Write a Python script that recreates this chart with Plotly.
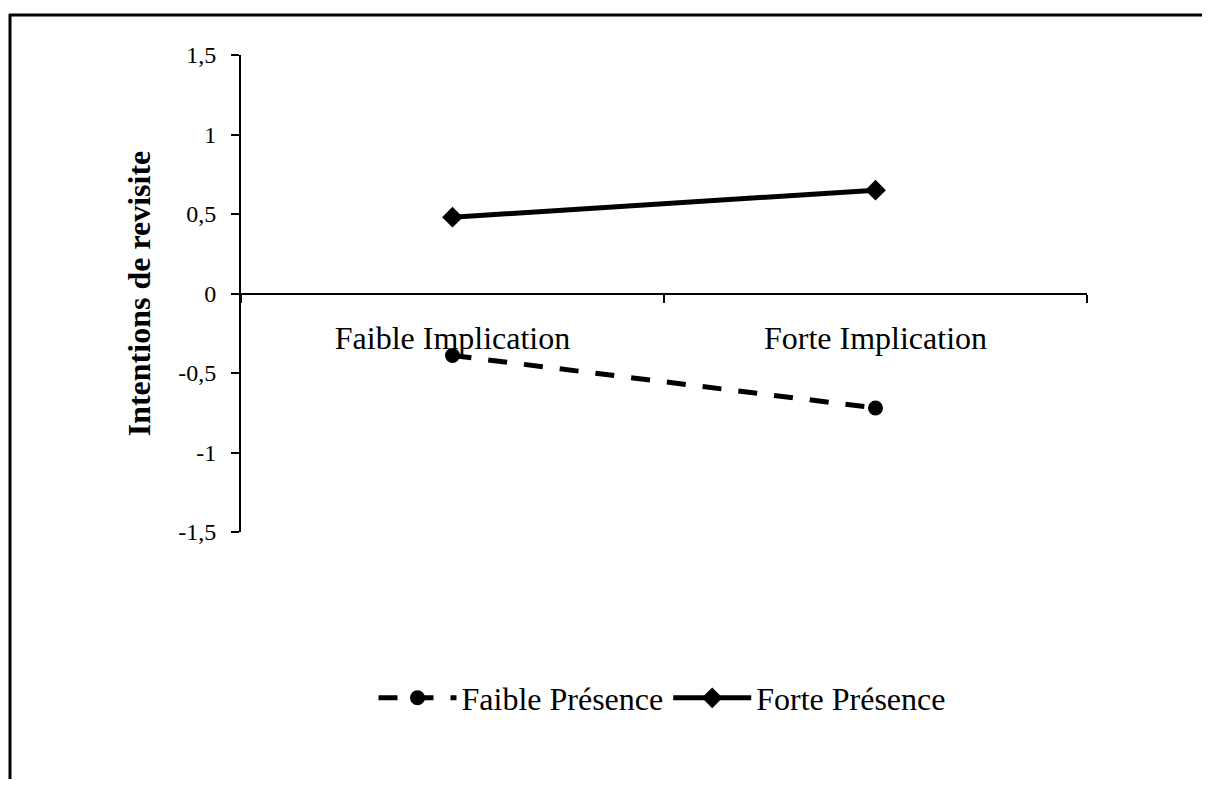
import plotly.graph_objects as go

categories = ["Faible Implication", "Forte Implication"]
faible_presence = [-0.39, -0.72]
forte_presence = [0.48, 0.65]
y_ticks = [-1.5, -1, -0.5, 0, 0.5, 1, 1.5]
y_tick_labels = ["-1,5", "-1", "-0,5", "0", "0,5", "1", "1,5"]

# the page body has an 8px margin, so the figure is kept small enough to fit the window
OFF = 8
W, H = 1210 - 2 * OFF, 787 - 2 * OFF
L, T = 241 - OFF, 55 - OFF
PW, PH = 1087 - 241, 532 - 55
R, B = W - L - PW, H - T - PH


def px_x(x):
    return (x - OFF - L) / PW


def px_y(y):
    return (T + PH - (y - OFF)) / PH


FONT = "Liberation Serif, Times New Roman, serif"

fig = go.Figure()
fig.add_trace(go.Scatter(
    x=categories, y=faible_presence, name="Faible Présence", mode="lines+markers",
    line=dict(color="black", width=5, dash="19px,17px"),
    marker=dict(symbol="circle", size=15, color="black"),
))
fig.add_trace(go.Scatter(
    x=categories, y=forte_presence, name="Forte Présence", mode="lines+markers",
    line=dict(color="black", width=5),
    marker=dict(symbol="diamond", size=16, color="black"),
))

# outer chart frame: only the top and left edges are visible in the page
frame = dict(type="line", xref="paper", yref="paper", line=dict(color="black", width=3))
fig.add_shape(x0=px_x(9), x1=px_x(1240), y0=px_y(15), y1=px_y(15), **frame)
fig.add_shape(x0=px_x(10), x1=px_x(10), y0=px_y(14), y1=px_y(820), **frame)

fig.update_layout(
    width=W, height=H,
    margin=dict(l=L, r=R, t=T, b=B),
    paper_bgcolor="white", plot_bgcolor="white",
    font=dict(family=FONT, color="black", size=24),
    showlegend=True,
    legend=dict(orientation="h", x=px_x(662), xanchor="center", y=px_y(698), yanchor="middle",
                font=dict(size=32, family=FONT), itemwidth=78, bgcolor="rgba(0,0,0,0)"),
)
fig.update_xaxes(
    type="category", range=[-0.5, 1.5], anchor="free", position=0.5,
    showline=True, linecolor="black", linewidth=2, showgrid=False, zeroline=False,
    ticks="outside", tickson="boundaries", ticklen=8, tickcolor="black", tickwidth=2,
    tickfont=dict(size=32, family=FONT), ticklabelstandoff=16,
)
fig.update_yaxes(
    range=[-1.5, 1.5], tickvals=y_ticks, ticktext=y_tick_labels,
    showline=True, linecolor="black", linewidth=2, showgrid=False, zeroline=False,
    ticks="outside", ticklen=8, tickcolor="black", tickwidth=2,
    tickfont=dict(size=24, family=FONT), ticklabelstandoff=10,
    title=dict(text="<b>Intentions de revisite</b>", font=dict(size=32, family=FONT), standoff=18),
)

fig.write_html("out.html")
